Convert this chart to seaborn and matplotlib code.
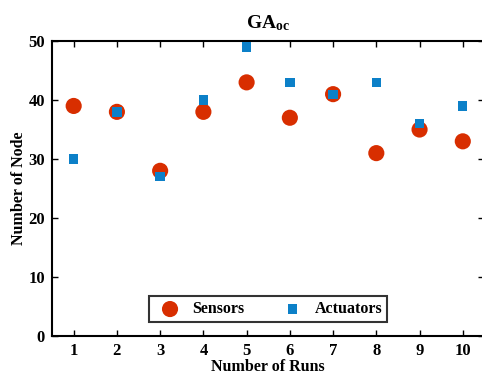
import matplotlib
matplotlib.use("Agg")
import matplotlib.pyplot as plt
import seaborn as sns
import pandas as pd

runs = [1, 2, 3, 4, 5, 6, 7, 8, 9, 10]
sensors = [39, 38, 28, 38, 43, 37, 41, 31, 35, 33]
actuators = [30, 38, 27, 40, 49, 43, 41, 43, 36, 39]

sns.set_theme(style="ticks")
plt.rcParams['font.family'] = ['Liberation Serif', 'DejaVu Serif']
plt.rcParams['mathtext.fontset'] = 'custom'
plt.rcParams['mathtext.rm'] = 'Liberation Serif:bold'
plt.rcParams['mathtext.it'] = 'Liberation Serif:bold'
plt.rcParams['mathtext.bf'] = 'Liberation Serif:bold'
for k in ['text.color', 'axes.labelcolor', 'xtick.color', 'ytick.color']:
    plt.rcParams[k] = 'black'

df = pd.DataFrame({"run": runs * 2,
                   "value": sensors + actuators,
                   "kind": ["Sensors"] * 10 + ["Actuators"] * 10})

fig = plt.figure(figsize=(4.82, 3.77), dpi=100)
ax = fig.add_axes([0.108, 0.109, 0.897, 0.782])

sns.scatterplot(data=df[df.kind == "Sensors"], x="run", y="value", ax=ax,
                color="#D82E00", marker="o", s=135, edgecolor="none",
                label="Sensors", zorder=2)
sns.scatterplot(data=df[df.kind == "Actuators"], x="run", y="value", ax=ax,
                color="#0C80C8", marker="s", s=45, edgecolor="none",
                label="Actuators", zorder=3)

ax.set_xlim(0.5, 10.5)
ax.set_ylim(0, 50)
ax.set_xticks(runs)
ax.set_yticks([0, 10, 20, 30, 40, 50])
ax.tick_params(direction="in", top=True, right=True, length=4, width=1,
               labelsize=12, pad=5)
for lab in ax.get_xticklabels() + ax.get_yticklabels():
    lab.set_fontweight("bold")
for sp in ax.spines.values():
    sp.set_linewidth(1.5)
    sp.set_color("black")

ax.set_xlabel("Number of Runs", fontsize=11.5, fontweight="bold", labelpad=0)
ax.set_ylabel("Number of Node", fontsize=11.5, fontweight="bold", labelpad=1)
ax.set_title(r"GA$_{\mathbf{oc}}$", fontsize=14, fontweight="bold", pad=9)

leg = ax.legend(loc="lower center", bbox_to_anchor=(0.5, 0.02), ncol=2,
                frameon=True, fancybox=False, fontsize=11.5,
                columnspacing=2.0, handletextpad=0.4, borderpad=0.3,
                markerscale=1.0)
leg.get_frame().set_edgecolor("black")
leg.get_frame().set_linewidth(1.5)
for t in leg.get_texts():
    t.set_fontweight("bold")

fig.savefig("out.png", dpi=100)
